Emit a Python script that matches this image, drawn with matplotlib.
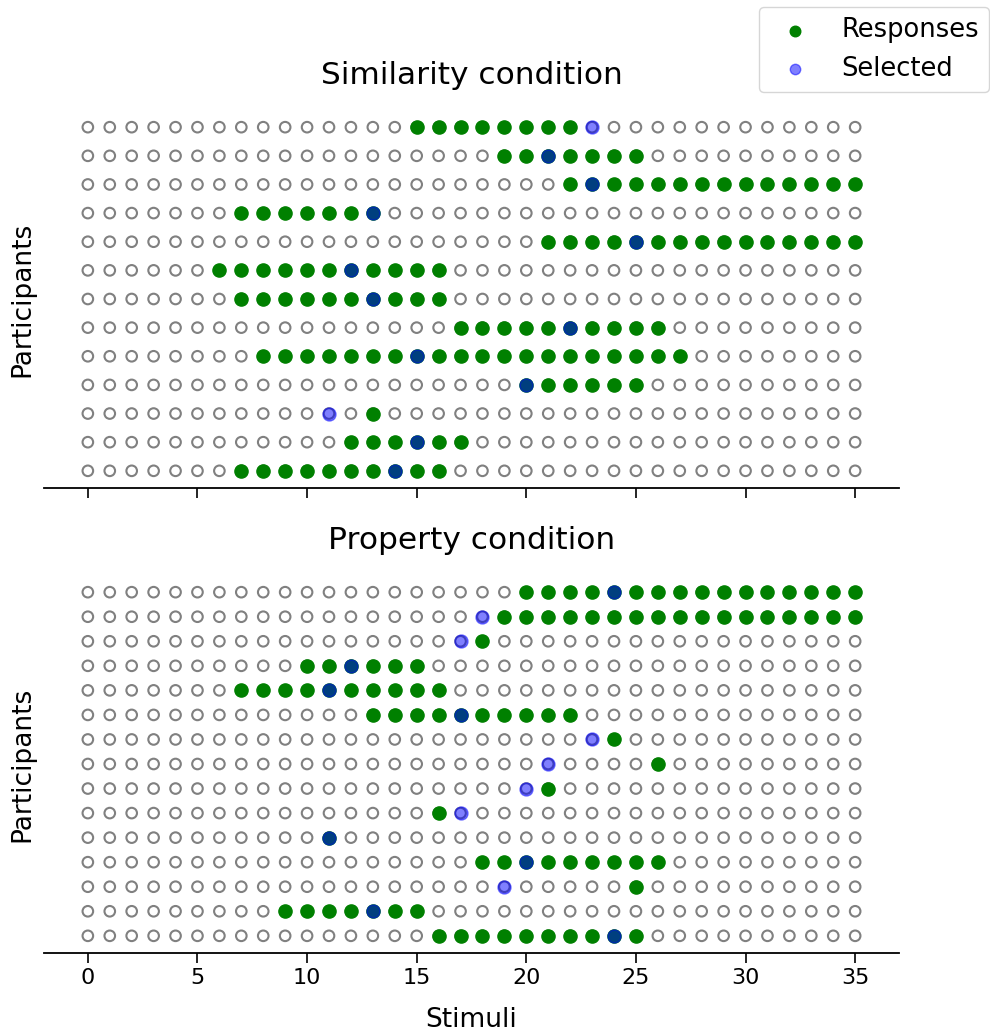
import numpy as np
import matplotlib
matplotlib.use('Agg')
import matplotlib.pyplot as plt

# Respuestas por participante (filas de arriba hacia abajo):
# rango de estimulos marcados [lo, hi] y estimulo seleccionado
stimuli = list(range(0, 36))

sim_lo = [15, 19, 22, 7, 21, 6, 7, 17, 8, 20, 13, 12, 7]
sim_hi = [22, 25, 35, 13, 35, 16, 16, 26, 27, 25, 13, 17, 16]
sim_sel = [23, 21, 23, 13, 25, 12, 13, 22, 15, 20, 11, 15, 14]

prop_lo = [20, 19, 18, 10, 7, 13, 24, 26, 21, 16, 11, 18, 25, 9, 16]
prop_hi = [35, 35, 18, 15, 16, 22, 24, 26, 21, 16, 11, 26, 25, 15, 25]
prop_sel = [24, 18, 17, 12, 11, 17, 23, 21, 20, 17, 11, 20, 19, 13, 24]

titles = ['Similarity condition', 'Property condition']
x_ticks = [0, 5, 10, 15, 20, 25, 30, 35]

fig = plt.figure(figsize=(9.9, 10.32), dpi=100)
ax1 = fig.add_axes([44 / 990, 1 - 488 / 1032, 855 / 990, 378 / 1032])
ax2 = fig.add_axes([44 / 990, 1 - 953 / 1032, 855 / 990, 378 / 1032], sharex=ax1)


def dibujar(ax, lo, hi, sel, titulo):
    n = len(lo)
    # circulos vacios para todos los estimulos
    gx, gy = np.meshgrid(stimuli, np.arange(n))
    ax.scatter(gx.ravel(), gy.ravel(), s=58, facecolors='none',
               edgecolors='gray', linewidths=1.5, zorder=1)
    rx, ry, sx, sy = [], [], [], []
    for k in range(n):
        fila = n - 1 - k
        for s in stimuli:
            if lo[k] <= s <= hi[k]:
                rx.append(s)
                ry.append(fila)
        sx.append(sel[k])
        sy.append(fila)
    ax.scatter(rx, ry, s=90, color='green', zorder=2, label='Responses')
    ax.scatter(sx, sy, s=88, color='blue', alpha=0.5, zorder=3, label='Selected')
    ax.set_xlim(-2, 37)
    ax.set_ylim(-0.6 - 0.05 * (n - 13), n - 1 + 0.6 + 0.05 * (n - 13))
    ax.set_title(titulo, fontsize=22.5, pad=19)
    ax.set_ylabel('Participants', fontsize=19, labelpad=6)
    ax.set_yticks([])
    for lado in ['left', 'right', 'top']:
        ax.spines[lado].set_visible(False)
    ax.spines['bottom'].set_linewidth(1.3)
    ax.tick_params(axis='x', length=7, width=1.2, labelsize=16)


dibujar(ax1, sim_lo, sim_hi, sim_sel, titles[0])
dibujar(ax2, prop_lo, prop_hi, prop_sel, titles[1])
ax1.set_xticks(x_ticks)
ax1.tick_params(axis='x', labelbottom=False)
ax2.set_xlabel('Stimuli', fontsize=19, labelpad=14)

h, l = ax1.get_legend_handles_labels()
fig.legend(h, l, loc='upper right', bbox_to_anchor=(989 / 990, 1 - 7 / 1032),
           borderaxespad=0, fontsize=18.5, markerscale=0.8)

fig.savefig('out.png', dpi=100)
